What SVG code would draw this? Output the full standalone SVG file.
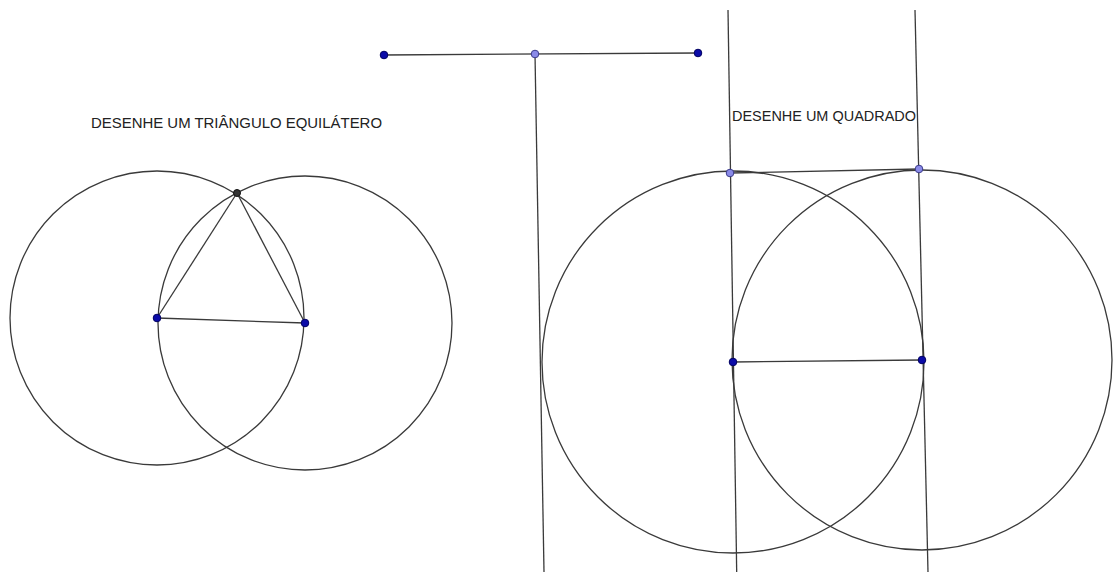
<svg xmlns="http://www.w3.org/2000/svg" width="1113" height="572" viewBox="0 0 1113 572">
<style>
.ln{stroke:#3a3a3a;stroke-width:1.3;fill:none}
.free{fill:#0b0ba8;stroke:#000060;stroke-width:1}
.dep{fill:#8a8ae8;stroke:#3a3a8a;stroke-width:1}
.blk{fill:#333;stroke:#111;stroke-width:1}
.t{font-family:"Liberation Sans",Arial,sans-serif;font-size:14.5px;fill:#222}
</style>
<rect width="1113" height="572" fill="#fff"/>
<g id="connectors">
<line class="ln" x1="384" y1="55" x2="698" y2="53"/>
<line class="ln" x1="535" y1="54" x2="544" y2="572"/>
<circle class="ln" cx="157" cy="318" r="147"/>
<circle class="ln" cx="305" cy="323" r="147"/>
<line class="ln" x1="157" y1="318" x2="305" y2="323"/>
<line class="ln" x1="157" y1="318" x2="237" y2="193"/>
<line class="ln" x1="305" y1="323" x2="237" y2="193"/>
<circle class="ln" cx="733" cy="362" r="191"/>
<circle class="ln" cx="922" cy="360" r="190"/>
<line class="ln" x1="733" y1="362" x2="922" y2="360"/>
<line class="ln" x1="728" y1="10" x2="736.7" y2="572"/>
<line class="ln" x1="915" y1="10" x2="928" y2="572"/>
<line class="ln" x1="730" y1="173" x2="919" y2="169"/>
</g>
<g id="text-triangulo"><text class="t" x="91" y="128" textLength="291" lengthAdjust="spacingAndGlyphs">DESENHE UM TRIÂNGULO EQUILÁTERO</text></g>
<g id="text-quadrado"><text class="t" x="732" y="121" textLength="184" lengthAdjust="spacingAndGlyphs">DESENHE UM QUADRADO</text></g>
<g id="pt-seg-left"><circle class="free" cx="384" cy="55" r="3.8"/></g>
<g id="pt-seg-mid"><circle class="dep" cx="535" cy="54" r="3.8"/></g>
<g id="pt-seg-right"><circle class="free" cx="698" cy="53" r="3.8"/></g>
<g id="pt-A"><circle class="free" cx="157" cy="318" r="3.8"/></g>
<g id="pt-B"><circle class="free" cx="305" cy="323" r="3.8"/></g>
<g id="pt-C"><circle class="blk" cx="237" cy="193" r="3.5"/></g>
<g id="pt-P1"><circle class="free" cx="733" cy="362" r="3.8"/></g>
<g id="pt-P2"><circle class="free" cx="922" cy="360" r="3.8"/></g>
<g id="pt-P3"><circle class="dep" cx="730" cy="173" r="3.8"/></g>
<g id="pt-P4"><circle class="dep" cx="919" cy="169" r="3.8"/></g>
</svg>
